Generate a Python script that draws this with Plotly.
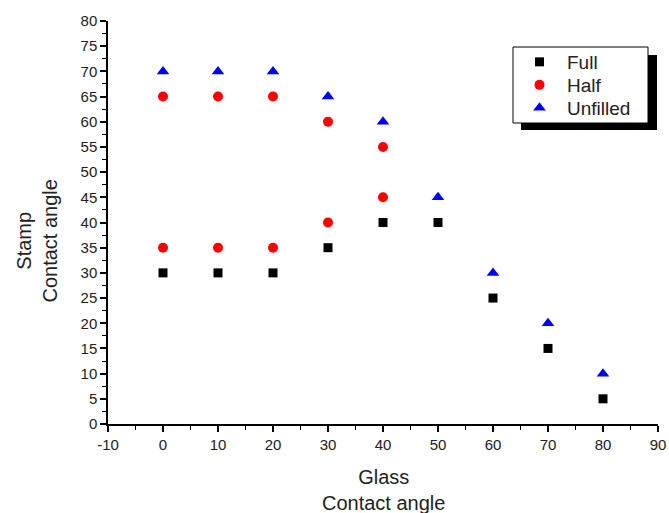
import plotly.graph_objects as go

full_x = [0, 10, 20, 30, 40, 50, 60, 70, 80]
full_y = [30, 30, 30, 35, 40, 40, 25, 15, 5]
half_x = [0, 0, 10, 10, 20, 20, 30, 30, 40, 40]
half_y = [65, 35, 65, 35, 65, 35, 60, 40, 55, 45]
unf_x = [0, 10, 20, 30, 40, 50, 60, 70, 80]
unf_y = [70, 70, 70, 65, 60, 45, 30, 20, 10]

x_tickvals = [-10, 0, 10, 20, 30, 40, 50, 60, 70, 80, 90]
x_ticktext = ["-10", "0", "10", "20", "30", "40", "50", "60", "70", "80", "90"]

FONT = "Liberation Sans, Arial, sans-serif"
TXT = "#222"

# page pixel -> paper coords
L, R, T, B = 108, 658, 21, 424
def px(x):
    return (x - L) / (R - L)
def py(y):
    return (B - y) / (B - T)

fig = go.Figure()
fig.add_trace(go.Scatter(x=full_x, y=full_y, mode="markers", name="Full", legend="legend",
                         marker=dict(symbol="square", size=9, color="black")))
fig.add_trace(go.Scatter(x=half_x, y=half_y, mode="markers", name="Half", legend="legend2",
                         marker=dict(symbol="circle", size=10, color="#ff0000")))
fig.add_trace(go.Scatter(x=unf_x, y=unf_y, mode="markers", name="Unfilled", legend="legend3",
                         marker=dict(symbol="triangle-up", size=11, color="#0000ff")))

axis_common = dict(showline=True, linecolor="black", linewidth=1.5, ticks="outside",
                   ticklen=6, tickwidth=1.5, tickcolor="black", showgrid=False,
                   zeroline=False, automargin=False,
                   tickfont=dict(family=FONT, size=15, color=TXT))

fig.update_xaxes(range=[-10, 90], tickvals=x_tickvals, ticktext=x_ticktext,
                 minor=dict(ticks="outside", ticklen=4, tickwidth=1, tickcolor="black", dtick=5, tick0=-10),
                 **axis_common)
fig.update_yaxes(range=[0, 80], tick0=0, dtick=5,
                 minor=dict(ticks="outside", ticklen=4, tickwidth=1, tickcolor="black", dtick=2.5, tick0=0),
                 **axis_common)

fig.add_annotation(text="Glass<br>Contact angle", xref="paper", yref="paper",
                   x=px(383), y=py(490), showarrow=False, xanchor="center", yanchor="middle",
                   font=dict(family=FONT, size=20, color=TXT), align="center")
fig.add_annotation(text="Stamp<br>Contact angle", xref="paper", yref="paper",
                   x=px(36.5), y=py(241), showarrow=False, textangle=-90,
                   xanchor="center", yanchor="middle",
                   font=dict(family=FONT, size=20, color=TXT), align="center")

# legend shadow and box
fig.add_shape(type="rect", xref="paper", yref="paper",
              x0=px(521), x1=px(657), y0=py(130), y1=py(55),
              fillcolor="black", line=dict(width=0), layer="above")
fig.add_shape(type="rect", xref="paper", yref="paper",
              x0=px(513), x1=px(648), y0=py(123), y1=py(47),
              fillcolor="white", line=dict(width=1, color="black"), layer="above")

leg_common = dict(xanchor="left", yanchor="middle", bgcolor="rgba(0,0,0,0)", borderwidth=0,
                  font=dict(family=FONT, size=19, color=TXT), itemwidth=45)

fig.update_layout(
    width=669, height=513,
    margin=dict(l=108, r=11, t=21, b=89, autoexpand=False),
    plot_bgcolor="white", paper_bgcolor="white",
    showlegend=True,
    legend=dict(x=px(512), y=py(62), **leg_common),
    legend2=dict(x=px(512), y=py(85), **leg_common),
    legend3=dict(x=px(512), y=py(108), **leg_common),
)

fig.write_html(
    "out.html",
    config={"displayModeBar": False},
    post_script=("document.documentElement.style.margin='0';"
                 "document.documentElement.style.overflow='hidden';"
                 "document.body.style.margin='0';"
                 "document.body.style.overflow='hidden';"),
)
